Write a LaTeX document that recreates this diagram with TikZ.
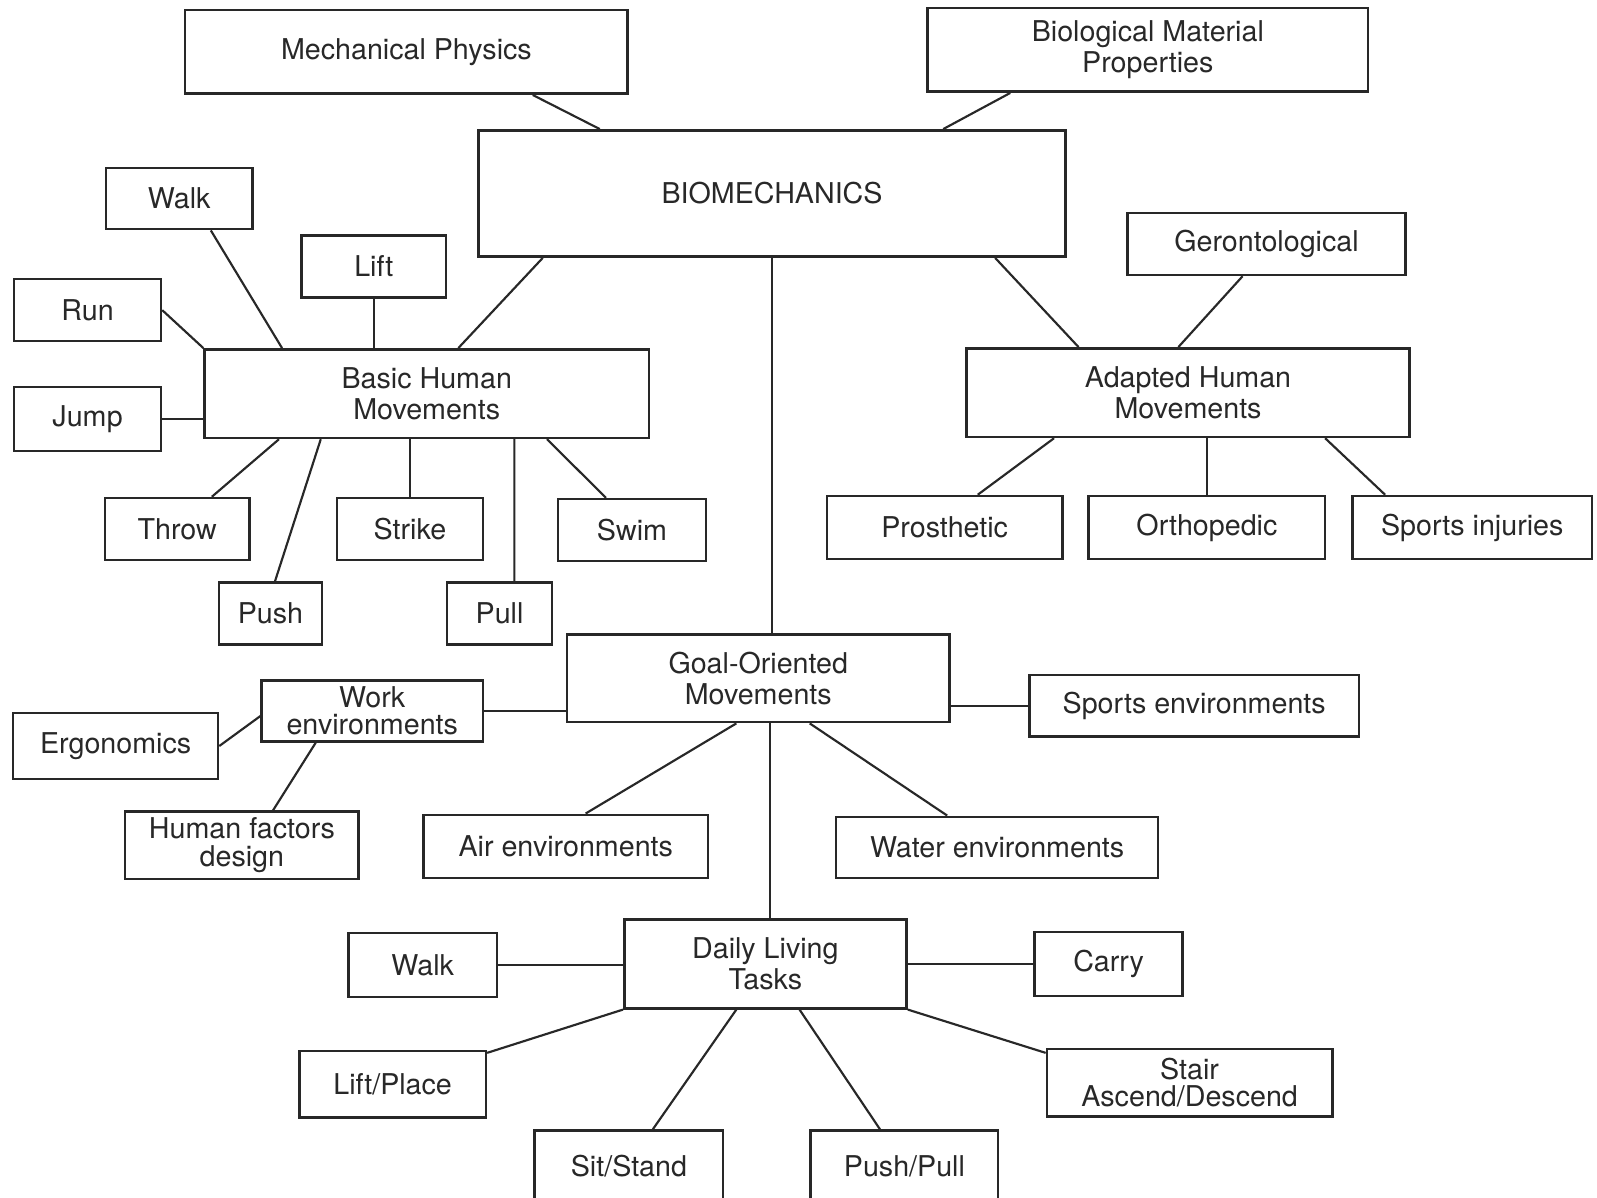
\documentclass[tikz,border=0pt]{standalone}
\usepackage{fontspec}
\setmainfont{TeX Gyre Heros}
\usepackage{tikz}
\usetikzlibrary{calc}
\definecolor{ink}{RGB}{40,40,40}
\tikzset{%
  box/.style={draw=ink, rectangle, line width=0.7pt, inner sep=0pt, align=center,
    text=ink, font=\fontsize{8}{8.8}\selectfont},% every box of the map
  tight/.style={font=\fontsize{8}{7.7}\selectfont},% boxes with close lines
  link/.style={draw=ink, line width=0.6pt}% connector between boxes
}
\begin{document}
\begin{tikzpicture}[x=0.01cm, y=-0.01cm]
\useasboundingbox (0,0) rectangle (1568,1176);
\clip (0,0) rectangle (1568,1176);

% top level
\node[box, minimum width=4.34cm, minimum height=0.82cm] (mech) at (399,51) {Mechanical Physics};
\node[box, minimum width=4.32cm, minimum height=0.82cm] (bio) at (1127,49) {Biological Material\\Properties};
\node[box, minimum width=5.76cm, minimum height=1.24cm] (biomech) at (758,190) {BIOMECHANICS};

% basic human movements
\node[box, minimum width=4.36cm, minimum height=0.87cm] (basic) at (419,386.5) {Basic Human\\Movements};
\node[box, minimum width=1.44cm, minimum height=0.60cm] (walka) at (176,195) {Walk};
\node[box, minimum width=1.42cm, minimum height=0.61cm] (lift) at (367,261.5) {Lift};
\node[box, minimum width=1.44cm, minimum height=0.61cm] (run) at (86,304.5) {Run};
\node[box, minimum width=1.44cm, minimum height=0.63cm] (jump) at (86,411.5) {Jump};
\node[box, minimum width=1.42cm, minimum height=0.61cm] (throw) at (174,519.5) {Throw};
\node[box, minimum width=1.43cm, minimum height=0.61cm] (strike) at (402.5,519.5) {Strike};
\node[box, minimum width=1.45cm, minimum height=0.61cm] (swim) at (620.5,520.5) {Swim};
\node[box, minimum width=1.01cm, minimum height=0.61cm] (push) at (265.5,602.5) {Push};
\node[box, minimum width=1.03cm, minimum height=0.61cm] (pull) at (490.5,602.5) {Pull};

% adapted human movements
\node[box, minimum width=4.35cm, minimum height=0.87cm] (adapted) at (1166.5,385.5) {Adapted Human\\Movements};
\node[box, minimum width=2.73cm, minimum height=0.61cm] (geron) at (1243.5,239.5) {Gerontological};
\node[box, minimum width=2.31cm, minimum height=0.62cm] (prosth) at (927.5,518) {Prosthetic};
\node[box, minimum width=2.32cm, minimum height=0.62cm] (ortho) at (1185,518) {Orthopedic};
\node[box, minimum width=2.35cm, minimum height=0.62cm] (sportsinj) at (1445.5,518) {Sports injuries};

% goal-oriented movements
\node[box, minimum width=3.75cm, minimum height=0.86cm] (goal) at (744.5,666) {Goal-Oriented\\Movements};
\node[box, tight, minimum width=2.17cm, minimum height=0.60cm] (work) at (365.5,698) {Work\\environments};
\node[box, minimum width=2.01cm, minimum height=0.65cm] (ergo) at (113.5,732.5) {Ergonomics};
\node[box, tight, minimum width=2.29cm, minimum height=0.66cm] (human) at (237.5,830) {Human factors\\design};
\node[box, minimum width=3.23cm, minimum height=0.60cm] (sportsenv) at (1172.5,693) {Sports environments};
\node[box, minimum width=2.79cm, minimum height=0.62cm] (air) at (555.5,831) {Air environments};
\node[box, minimum width=3.16cm, minimum height=0.60cm] (water) at (979,832) {Water environments};

% daily living tasks
\node[box, minimum width=2.77cm, minimum height=0.87cm] (daily) at (751.5,946.5) {Daily Living\\Tasks};
\node[box, minimum width=1.46cm, minimum height=0.63cm] (walkb) at (415,947.5) {Walk};
\node[box, minimum width=1.45cm, minimum height=0.63cm] (carry) at (1088.5,946.5) {Carry};
\node[box, minimum width=1.83cm, minimum height=0.65cm] (liftp) at (385.5,1064.5) {Lift/Place};
\node[box, tight, minimum width=2.80cm, minimum height=0.66cm] (stair) at (1168,1063) {Stair\\Ascend/Descend};
\node[box, minimum width=1.85cm, minimum height=0.70cm] (sit) at (617.5,1145) {Sit/Stand};
\node[box, minimum width=1.84cm, minimum height=0.70cm] (pushpull) at (888,1145) {Push/Pull};

% connectors
\draw[link] ([xshift=1.24cm]mech.south) -- ([xshift=-1.69cm]biomech.north);
\draw[link] ([xshift=-1.35cm]bio.south) -- ([xshift=1.68cm]biomech.north);
\draw[link] ([xshift=-2.25cm]biomech.south) -- ([xshift=0.31cm]basic.north);
\draw[link] (biomech.south) -- (biomech.south |- goal.north);
\draw[link] ([xshift=2.19cm]biomech.south) -- ([xshift=-1.075cm]adapted.north);

\draw[link] ([xshift=0.31cm]walka.south) -- ([xshift=-1.42cm]basic.north);
\draw[link] (lift.south) -- (lift.south |- basic.north);
\draw[link] (run.east) -- (basic.north west);
\draw[link] (jump.east) -- (jump.east -| basic.west);
\draw[link] ([xshift=-1.45cm]basic.south) -- ([xshift=0.34cm]throw.north);
\draw[link] ([xshift=-1.04cm]basic.south) -- ([xshift=0.045cm]push.north);
\draw[link] (strike.north |- basic.south) -- (strike.north);
\draw[link] ([xshift=0.86cm]basic.south) -- ([xshift=0.145cm]pull.north);
\draw[link] ([xshift=1.18cm]basic.south) -- ([xshift=-0.255cm]swim.north);

\draw[link] ([xshift=-0.235cm]geron.south) -- ([xshift=-0.095cm]adapted.north);
\draw[link] ([xshift=-1.315cm]adapted.south) -- ([xshift=0.325cm]prosth.north);
\draw[link] (ortho.north |- adapted.south) -- (ortho.north);
\draw[link] ([xshift=1.345cm]adapted.south) -- ([xshift=-0.855cm]sportsinj.north);

\draw[link] (work.east) -- (work.east -| goal.west);
\draw[link] ([yshift=-0.05cm]work.west) -- (ergo.east);
\draw[link] ([xshift=-0.555cm]work.south) -- ([xshift=0.305cm]human.north);
\draw[link] (sportsenv.west -| goal.east) -- (sportsenv.west);
\draw[link] ([xshift=-0.215cm]goal.south) -- ([xshift=0.195cm]air.north);
\draw[link] ([xshift=0.505cm]goal.south) -- ([xshift=-0.49cm]water.north);
\draw[link] ([xshift=0.045cm]daily.north |- goal.south) -- ([xshift=0.045cm]daily.north);

\draw[link] (walkb.east) -- (walkb.east -| daily.west);
\draw[link] (daily.east) -- (carry.west);
\draw[link] (daily.south west) -- ([yshift=-0.03cm]liftp.north east);
\draw[link] ([xshift=-0.285cm]daily.south) -- ([xshift=0.235cm]sit.north);
\draw[link] ([xshift=0.335cm]daily.south) -- ([xshift=-0.24cm]pushpull.north);
\draw[link] (daily.south east) -- ([yshift=-0.05cm]stair.north west);
\end{tikzpicture}
\end{document}
